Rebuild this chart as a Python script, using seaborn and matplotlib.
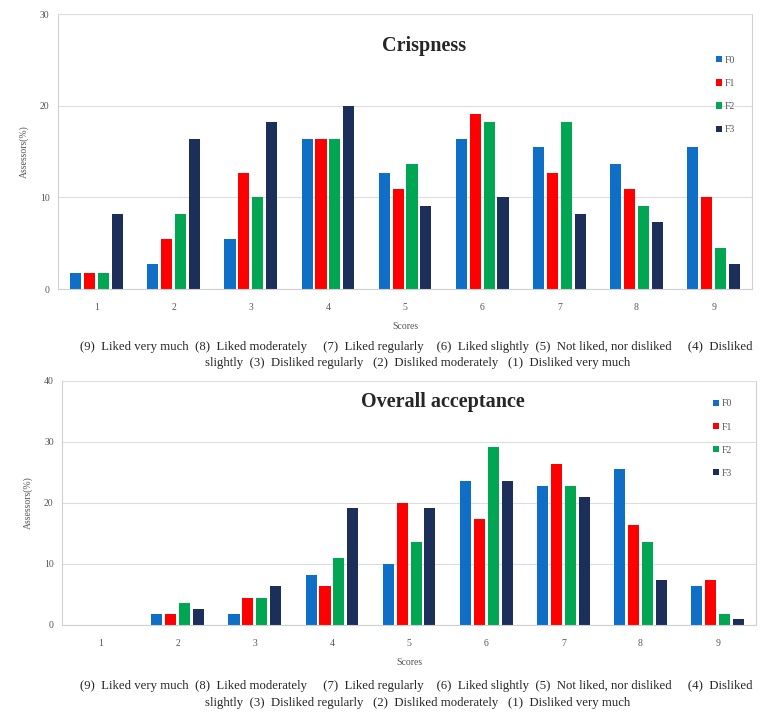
import pandas as pd
import matplotlib
matplotlib.use("Agg")
import matplotlib.pyplot as plt
import seaborn as sns

# scores on the hedonic scale
scores = ["1", "2", "3", "4", "5", "6", "7", "8", "9"]
formulations = ["F0", "F1", "F2", "F3"]

# assessors (%) per score, crispness
crisp_f0 = [1.8, 2.7, 5.5, 16.4, 12.7, 16.4, 15.5, 13.6, 15.5]
crisp_f1 = [1.8, 5.5, 12.7, 16.4, 10.9, 19.1, 12.7, 10.9, 10.0]
crisp_f2 = [1.8, 8.2, 10.0, 16.4, 13.6, 18.2, 18.2, 9.1, 4.5]
crisp_f3 = [8.2, 16.4, 18.2, 20.0, 9.1, 10.0, 8.2, 7.3, 2.7]

# assessors (%) per score, overall acceptance
acc_f0 = [0.0, 1.8, 1.8, 8.2, 10.0, 23.6, 22.7, 25.5, 6.4]
acc_f1 = [0.0, 1.8, 4.5, 6.4, 20.0, 17.3, 26.4, 16.4, 7.3]
acc_f2 = [0.0, 3.6, 4.5, 10.9, 13.6, 29.1, 22.7, 13.6, 1.8]
acc_f3 = [0.0, 2.7, 6.4, 19.1, 19.1, 23.6, 20.9, 7.3, 0.9]

colors = ["#0F6FC6", "#FF0000", "#00A651", "#1B2F5A"]

caption_1 = ("(9)  Liked very much  (8)  Liked moderately     (7)  Liked regularly    "
             "(6)  Liked slightly  (5)  Not liked, nor disliked     (4)  Disliked")
caption_2 = "slightly  (3)  Disliked regularly   (2)  Disliked moderately   (1)  Disliked very much"


def long_table(series):
    rows = []
    for name, vals in zip(formulations, series):
        for s, v in zip(scores, vals):
            rows.append({"Scores": s, "Formulation": name, "value": v})
    return pd.DataFrame(rows)


def draw_panel(ax, df, title, ymax, title_xy, legend_xy):
    sns.barplot(data=df, x="Scores", y="value", hue="Formulation",
                palette=colors, width=0.72, gap=0.2, ax=ax,
                saturation=1, linewidth=0)
    ax.set_xlim(-0.5, 8.5)
    ax.set_ylim(0, ymax)
    ax.set_yticks(range(0, ymax + 1, 10))
    ax.yaxis.grid(True, color="#DDDDDD", linewidth=0.8)
    ax.xaxis.grid(False)
    ax.set_axisbelow(True)
    for side in ["left", "right", "bottom"]:
        ax.spines[side].set_color("#D0D0D0")
        ax.spines[side].set_linewidth(0.8)
    ax.spines["top"].set_visible(False)
    ax.tick_params(axis="x", length=0, labelsize=7, colors="#555555", pad=10)
    ax.tick_params(axis="y", length=0, labelsize=7, colors="#555555", pad=6)
    ax.set_xlabel("Scores", fontsize=7, color="#555555", labelpad=7)
    ax.set_ylabel("Assessors(%)", fontsize=7, color="#555555", labelpad=8)
    ax.text(title_xy[0], title_xy[1], title, transform=ax.transAxes,
            ha="center", va="center", fontsize=14.5, fontweight="bold",
            family="Liberation Serif")
    ax.legend(loc="upper left", bbox_to_anchor=legend_xy, frameon=False,
              fontsize=7, handlelength=0.6, handleheight=0.6,
              handletextpad=0.3, labelspacing=1.45, labelcolor="#555555")


sns.set_style("white")
plt.rcParams["font.family"] = ["Liberation Serif", "DejaVu Serif"]

fig = plt.figure(figsize=(7.62, 7.15), dpi=100)

ax1 = fig.add_axes([0.0761, 0.5958, 0.911, 0.3846])
draw_panel(ax1, long_table([crisp_f0, crisp_f1, crisp_f2, crisp_f3]),
           "Crispness", 30, (0.527, 0.884), (0.935, 0.88))

ax2 = fig.add_axes([0.0814, 0.1259, 0.911, 0.3413])
draw_panel(ax2, long_table([acc_f0, acc_f1, acc_f2, acc_f3]),
           "Overall acceptance", 40, (0.548, 0.914), (0.925, 0.96))

for y1, y2 in [(347, 363), (686, 703)]:
    fig.text(416 / 762, 1 - y1 / 715, caption_1, ha="center", va="center", fontsize=9.2)
    fig.text(418 / 762, 1 - y2 / 715, caption_2, ha="center", va="center", fontsize=9.2)

fig.savefig("out.png", dpi=100)
